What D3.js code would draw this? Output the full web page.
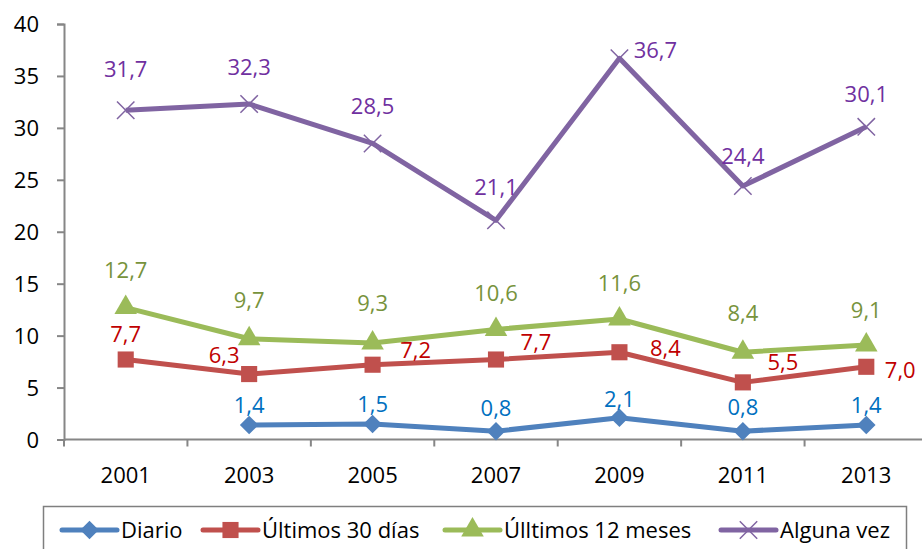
<!doctype html>
<html lang="es">
<head>
  <meta charset="UTF-8" />
  <script src="https://cdn.jsdelivr.net/npm/d3@7"></script>
  <style>
    body { margin: 0; background: #fff; }
    text { font-family: "Open Sans", sans-serif; }
    .axis path, .axis line { stroke: #868686; stroke-width: 2; }
    .axis text { font-size: 22px; fill: #000; }
  </style>
  <title>Consumo</title>
</head>
<body>
  <script>
    var years = ["2001", "2003", "2005", "2007", "2009", "2011", "2013"];
    var yTicks = [0, 5, 10, 15, 20, 25, 30, 35, 40];

    var diario = [null, 1.4, 1.5, 0.8, 2.1, 0.8, 1.4];
    var ultimos30 = [7.7, 6.3, 7.2, 7.7, 8.4, 5.5, 7.0];
    var ultimos12 = [12.7, 9.7, 9.3, 10.6, 11.6, 8.4, 9.1];
    var algunaVez = [31.7, 32.3, 28.5, 21.1, 36.7, 24.4, 30.1];

    var seriesNames = ["Diario", "Últimos 30 días", "Úlltimos 12 meses", "Alguna vez"];

    // styling per series
    var styles = [
      { line: "#4F81BD", label: "#0070C0", symbol: d3.symbolDiamond2, size: 220 },
      { line: "#C0504D", label: "#C00000", symbol: d3.symbolSquare, size: 260 },
      { line: "#9BBB59", label: "#77933C", symbol: d3.symbolTriangle, size: 220 },
      { line: "#8064A2", label: "#7030A0", symbol: d3.symbolX, size: 200 }
    ];

    // label offsets (dx, dy) from each point, as placed in the original
    var offsets = [
      [[0, 0], [0, -20], [0, -20], [0, -23], [0, -18], [0, -24], [0, -20]],
      [[0, -25], [-25, -19], [43, -14], [40, -17], [46, -4], [40, -20], [34, 4]],
      [[0, -37], [0, -38], [0, -40], [0, -36], [0, -36], [0, -39], [0, -35]],
      [[0, -41], [0, -37], [0, -37], [0, -33], [36, -8], [0, -30], [0, -33]]
    ];

    var allSeries = [diario, ultimos30, ultimos12, algunaVez];

    var width = 922, height = 549;
    var mLeft = 64, mRight = 928, mTop = 24, mBottom = 439.5;

    var svg = d3.select("body").append("svg")
      .attr("width", width).attr("height", height);

    var x = d3.scaleBand().domain(years).range([mLeft, mRight]);
    var y = d3.scaleLinear().domain([0, 40]).range([mBottom, mTop]);
    var cx = function (i) { return x(years[i]) + x.bandwidth() / 2; };

    // y axis
    var yAxis = svg.append("g").attr("class", "axis")
      .attr("transform", "translate(" + mLeft + ",0)")
      .call(d3.axisLeft(y).tickValues(yTicks).tickSize(7).tickPadding(18).tickSizeOuter(7));
    yAxis.selectAll("text").attr("dy", "0.35em");

    // x axis: ticks at band boundaries
    var xAxis = svg.append("g").attr("class", "axis")
      .attr("transform", "translate(0," + mBottom + ")");
    xAxis.append("line").attr("x1", mLeft).attr("x2", mRight).attr("y1", 0).attr("y2", 0);
    xAxis.selectAll("line.tk").data(years).enter().append("line")
      .attr("class", "tk")
      .attr("x1", function (d) { return x(d); }).attr("x2", function (d) { return x(d); })
      .attr("y1", 0).attr("y2", 7);
    xAxis.selectAll("text").data(years).enter().append("text")
      .attr("x", function (d) { return x(d) + x.bandwidth() / 2; })
      .attr("y", 43)
      .attr("text-anchor", "middle")
      .text(function (d) { return d; });

    var line = d3.line()
      .defined(function (d) { return d != null; })
      .x(function (d, i) { return cx(i); })
      .y(function (d) { return y(d); });

    allSeries.forEach(function (vals, s) {
      var st = styles[s];
      var g = svg.append("g");
      g.append("path").datum(vals)
        .attr("d", line)
        .attr("fill", "none")
        .attr("stroke", st.line)
        .attr("stroke-width", 5)
        .attr("stroke-linejoin", "round");

      var pts = vals.map(function (v, i) { return { v: v, i: i }; })
        .filter(function (d) { return d.v != null; });

      g.selectAll("path.m").data(pts).enter().append("path")
        .attr("class", "m")
        .attr("transform", function (d) { return "translate(" + cx(d.i) + "," + y(d.v) + ")"; })
        .attr("d", d3.symbol().type(st.symbol).size(st.size))
        .attr("fill", st.symbol === d3.symbolX ? "none" : st.line)
        .attr("stroke", st.line)
        .attr("stroke-width", st.symbol === d3.symbolX ? 1.5 : 0);

      g.selectAll("text").data(pts).enter().append("text")
        .attr("x", function (d) { return cx(d.i) + offsets[s][d.i][0]; })
        .attr("y", function (d) { return y(d.v) + offsets[s][d.i][1]; })
        .attr("dy", "0.35em")
        .attr("text-anchor", "middle")
        .attr("font-size", 22)
        .attr("fill", st.label)
        .text(function (d) { return d3.format(".1f")(d.v).replace(".", ","); });
    });

    // legend
    var legendX = [62, 203, 445, 721];
    var legY = 530;
    svg.append("rect")
      .attr("x", 43.5).attr("y", 506.5).attr("width", 863).attr("height", 60)
      .attr("fill", "none").attr("stroke", "#7f7f7f").attr("stroke-width", 1.5);

    var leg = svg.append("g").selectAll("g").data(seriesNames).enter().append("g")
      .attr("transform", function (d, i) { return "translate(" + legendX[i] + "," + legY + ")"; });
    leg.append("line")
      .attr("x1", 0).attr("x2", 55).attr("y1", 0).attr("y2", 0)
      .attr("stroke", function (d, i) { return styles[i].line; })
      .attr("stroke-width", 5).attr("stroke-linecap", "round");
    leg.append("path")
      .attr("transform", "translate(27.5,0)")
      .attr("d", function (d, i) { return d3.symbol().type(styles[i].symbol).size(styles[i].size)(); })
      .attr("fill", function (d, i) { return styles[i].symbol === d3.symbolX ? "none" : styles[i].line; })
      .attr("stroke", function (d, i) { return styles[i].line; })
      .attr("stroke-width", function (d, i) { return styles[i].symbol === d3.symbolX ? 1.5 : 0; });
    leg.append("text")
      .attr("x", 59).attr("y", 0).attr("dy", "0.35em")
      .attr("font-size", 22)
      .text(function (d) { return d; });
  </script>
</body>
</html>
